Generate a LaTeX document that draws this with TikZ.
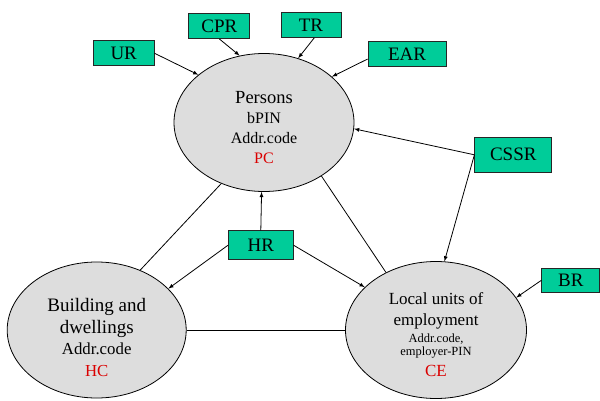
\documentclass[tikz,border=0pt]{standalone}
\usepackage{fontspec}
\setmainfont{Liberation Serif}
\usetikzlibrary{shapes.geometric}
\definecolor{regcol}{RGB}{0,204,153}
\definecolor{unitgray}{RGB}{221,221,221}
\definecolor{keyred}{RGB}{218,0,0}
\tikzset{
  reg/.style={draw=black!85, fill=regcol, minimum width=61pt, minimum height=25pt, inner sep=0pt, font=\fontsize{19}{22}\selectfont},
  unit/.style={ellipse, draw, fill=unitgray, minimum width=180pt, minimum height=138pt, inner sep=0pt},
  lbl/.style={align=center, inner sep=0pt},
}
\newcommand{\keycode}[1]{\textcolor{keyred}{#1}}
\begin{document}
\begin{tikzpicture}[x=1pt, y=1pt, line width=0.8pt]
				  \useasboundingbox (0,0) rectangle (600,400);
				  % the three units
				  \node[unit] (P) at (264,277.5) {};
				  \node[unit, minimum width=179pt, minimum height=136pt] (B) at (96.7,70) {};
				  \node[unit, minimum width=181pt, minimum height=137pt] (L) at (436,70) {};
				  \node[lbl, font=\fontsize{16}{20.3}\selectfont] (Ptxt) at (264,272.5)
				    {{\fontsize{18.5}{20.3}\selectfont Persons}\\ bPIN\\ Addr.code\\ \keycode{PC}};
				  \node[lbl, font=\fontsize{16.8}{21.4}\selectfont] (Btxt) at (96.7,62.5)
				    {{\fontsize{19}{21.4}\selectfont Building and}\\ {\fontsize{19}{21.4}\selectfont dwellings}\\ Addr.code\\ \keycode{HC}};
				  \node[lbl, font=\fontsize{17}{21}\selectfont] (Ltxt) at (436,65.1)
				    {Local units of\\ employment\\[-4.3pt] {\fontsize{12.5}{14}\selectfont Addr.code,}\\[-7.7pt] {\fontsize{12.5}{14}\selectfont employer-PIN}\\[-0.3pt] \keycode{CE}};
				  % registers
				  \node[reg] (UR) at (123.7,346.7) {UR};
				  \node[reg] (CPR) at (219.3,374) {CPR};
				  \node[reg, minimum width=60pt] (TR) at (311,375) {TR};
				  \node[reg, minimum width=78pt] (EAR) at (407,345.8) {EAR};
				  \node[reg, minimum width=77pt, minimum height=35pt] (CSSR) at (513.3,245.2) {CSSR};
				  \node[reg, minimum width=65pt, minimum height=29pt] (HR) at (260.8,154.7) {HR};
				  \node[reg, minimum width=58pt, minimum height=24pt] (BR) at (570.8,119.7) {BR};
				  % links
				  \draw[-latex] (UR.east) -- (P.144);
				  \draw[-latex] (CPR.south) -- (P.110);
				  \draw[-latex] (TR.-76) -- (P.62);
				  \draw[-latex] (EAR.187) -- (P.34);
				  \draw[-latex] (CSSR.west) -- (P.-4);
				  \draw[-latex] (CSSR.west) -- (L.83);
				  \draw[-latex] (HR.north) -- (P.268);
				  \draw[-latex] (HR.west) -- (B.30);
				  \draw[-latex] (HR.east) -- (L.149);
				  \draw[-latex] (BR.west) -- (L.22);
				  \draw (B.54) -- (P.235);
				  \draw (P.317) -- (L.131);
				  \draw (B) -- (L);
				\end{tikzpicture}
\end{document}
